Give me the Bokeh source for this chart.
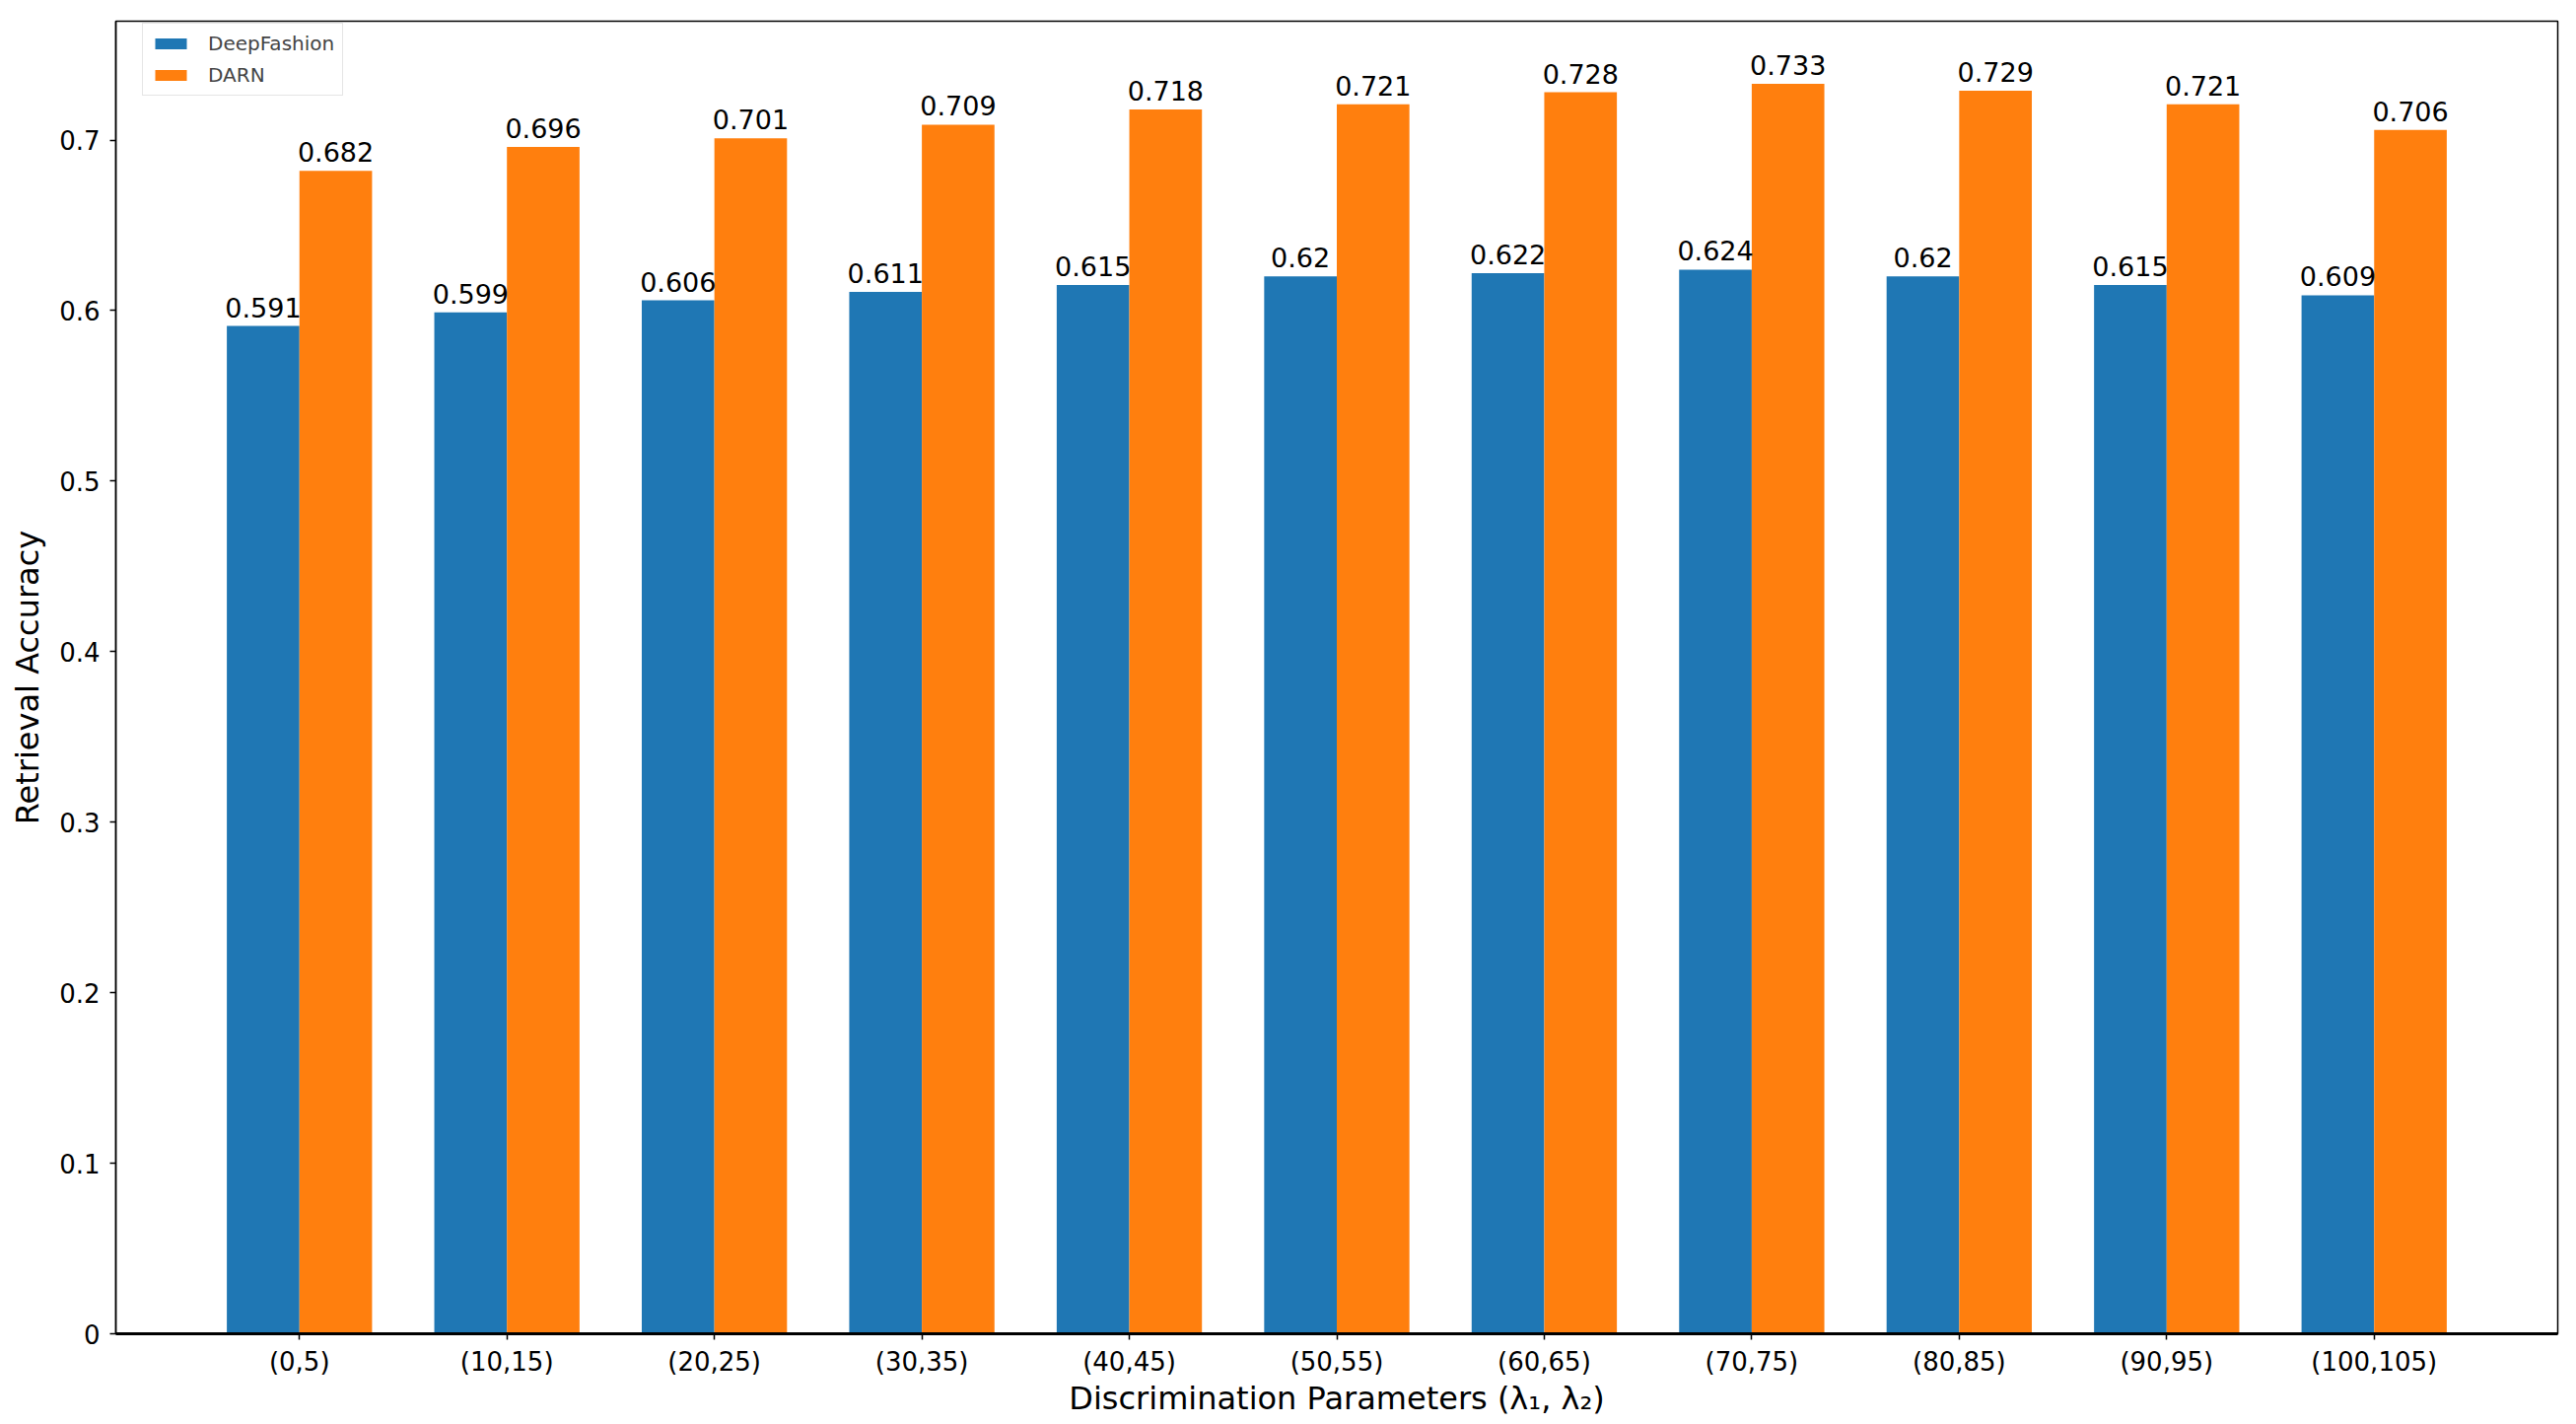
from bokeh.plotting import figure
from bokeh.models import ColumnDataSource, FixedTicker, Range1d, Legend, LegendItem
from bokeh.embed import file_html
from bokeh.resources import INLINE
from bokeh.core.properties import value

categories = ["(0,5)", "(10,15)", "(20,25)", "(30,35)", "(40,45)", "(50,55)",
              "(60,65)", "(70,75)", "(80,85)", "(90,95)", "(100,105)"]
deepfashion = [0.591, 0.599, 0.606, 0.611, 0.615, 0.62, 0.622, 0.624, 0.62, 0.615, 0.609]
darn = [0.682, 0.696, 0.701, 0.709, 0.718, 0.721, 0.728, 0.733, 0.729, 0.721, 0.706]
y_ticks = [0, 0.1, 0.2, 0.3, 0.4, 0.5, 0.6, 0.7]

BAR_W = 0.35
FONT = "DejaVu Sans"
W, H = 2605, 1440
idx = list(range(len(categories)))

src1 = ColumnDataSource(dict(x=[i - BAR_W / 2 for i in idx], y=deepfashion,
                             lab=[str(v) for v in deepfashion]))
src2 = ColumnDataSource(dict(x=[i + BAR_W / 2 for i in idx], y=darn,
                             lab=[str(v) for v in darn]))

p = figure(width=W, height=H, output_backend="svg", toolbar_location=None,
           x_range=Range1d(-0.885, 10.885), y_range=Range1d(0, 0.7697),
           min_border_left=117, min_border_top=21, min_border_right=11, min_border_bottom=88)

r1 = p.vbar(x="x", top="y", width=BAR_W, source=src1, color="#1f77b4", line_color=None)
r2 = p.vbar(x="x", top="y", width=BAR_W, source=src2, color="#ff7f0e", line_color=None)

for s in (src1, src2):
    p.text(x="x", y="y", text="lab", source=s, text_align="center", text_baseline="bottom",
           y_offset=-9, text_font=value(FONT), text_font_size="27px", text_color="black")

p.xgrid.visible = False
p.ygrid.visible = False
p.outline_line_color = "black"
p.outline_line_width = 1.5

p.xaxis.ticker = FixedTicker(ticks=idx)
p.xaxis.major_label_overrides = {i: c for i, c in zip(idx, categories)}
p.xaxis.minor_tick_line_color = None
p.yaxis.minor_tick_line_color = None
p.yaxis.ticker = FixedTicker(ticks=y_ticks)
p.yaxis.major_label_overrides = {0: "0"}

for ax in (p.xaxis[0], p.yaxis[0]):
    ax.major_label_text_font = FONT
    ax.major_label_text_font_size = "26px"
    ax.major_label_text_color = "black"
    ax.axis_label_text_font = FONT
    ax.axis_label_text_font_size = "32px"
    ax.axis_label_text_font_style = "normal"
    ax.axis_label_text_color = "black"
    ax.axis_line_color = "black"
    ax.axis_line_width = 1.5
    ax.major_tick_line_color = "black"
    ax.major_tick_line_width = 1.5
    ax.major_tick_out = 6
    ax.major_tick_in = 0

p.xaxis.axis_line_width = 3
p.xaxis.major_label_standoff = 7
p.yaxis.major_label_standoff = 10
p.xaxis.axis_label = "Discrimination Parameters (λ₁, λ₂)"
p.yaxis.axis_label = "Retrieval Accuracy"
p.xaxis.axis_label_standoff = 0
p.yaxis.axis_label_standoff = 10

legend = Legend(items=[LegendItem(label="DeepFashion", renderers=[r1]),
                       LegendItem(label="DARN", renderers=[r2])])
legend.label_text_font = FONT
legend.label_text_font_size = "20px"
legend.glyph_width = 40
legend.glyph_height = 14
legend.label_height = 21
legend.label_standoff = 18
legend.padding = 8
legend.spacing = 8
legend.margin = 0
legend.border_line_color = "#cccccc"
legend.border_line_width = 1.5
legend.background_fill_alpha = 0.8
p.add_layout(legend)
frame_h = H - 21 - 88
legend.location = (27, frame_h - 10 - 66)

open("out.html", "w").write(file_html(p, INLINE))
